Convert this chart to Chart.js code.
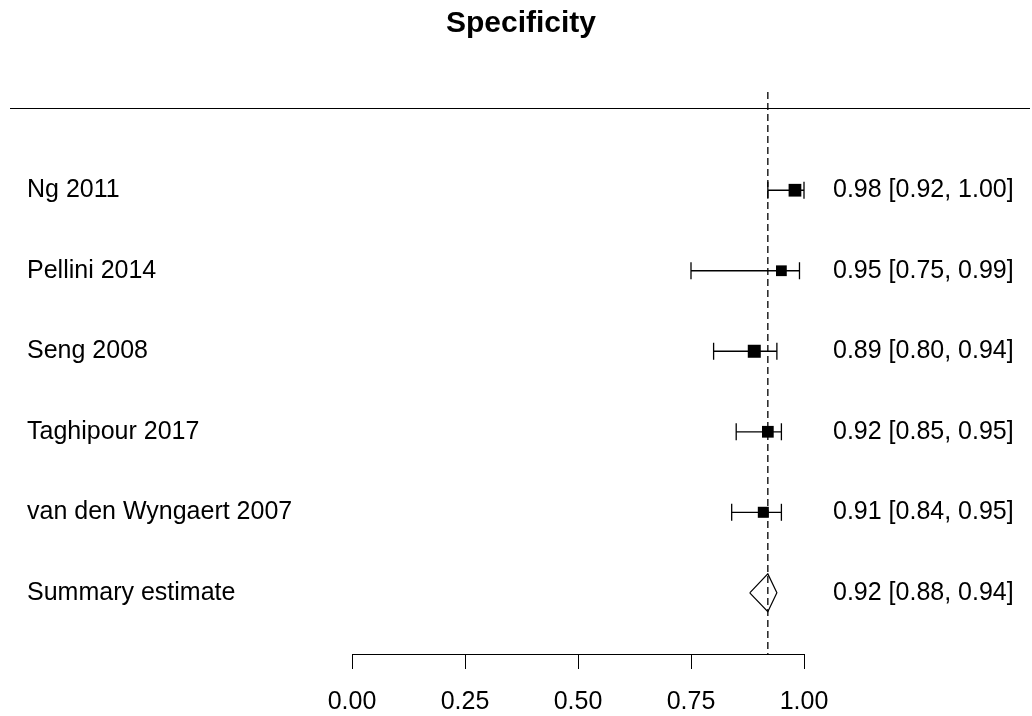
<!DOCTYPE html>
<html>
<head>
<meta charset="utf-8">
<script src="https://cdn.jsdelivr.net/npm/chart.js@4"></script>
<style>
  html, body { margin: 0; padding: 0; background: #fff; }
  #wrap { width: 1032px; height: 716px; }
</style>
</head>
<body>
<div id="wrap"><canvas id="forest"></canvas></div>
<script>
// study rows, top to bottom
const studies = ['Ng 2011', 'Pellini 2014', 'Seng 2008', 'Taghipour 2017', 'van den Wyngaert 2007'];
const spec = [0.98, 0.95, 0.89, 0.92, 0.91];
const lower = [0.92, 0.75, 0.80, 0.85, 0.84];
const upper = [1.00, 0.99, 0.94, 0.95, 0.95];

// pooled estimate
const summaryLabel = 'Summary estimate';
const summary = [0.92, 0.88, 0.94]; // estimate, lower, upper

const xTicks = [0, 0.25, 0.5, 0.75, 1];

const FONT = "'Liberation Sans', Arial, sans-serif";
const Y_MIN = -1.22, Y_MAX = 5.76;
const summaryRow = studies.length;
const fmt = v => v.toFixed(2);

// one dataset per confidence interval, capped with vertical ticks
const ciSets = studies.map((s, i) => ({
  data: [{ x: lower[i], y: i }, { x: upper[i], y: i }],
  showLine: true,
  borderColor: '#000',
  borderWidth: 1.3,
  pointStyle: 'line',
  rotation: 90,
  pointRadius: 8.5,
  pointBorderColor: '#000',
  pointBorderWidth: 1.3,
  clip: false
}));

const datasets = [
  {
    // point estimates
    data: spec.map((v, i) => ({ x: v, y: i })),
    pointStyle: 'rect',
    pointRadius: [9, 7.6, 9.2, 8.3, 7.8],
    backgroundColor: '#000',
    borderWidth: 0,
    clip: false
  },
  ...ciSets,
  {
    // summary diamond
    data: [
      { x: summary[1], y: summaryRow },
      { x: summary[0], y: summaryRow - 0.235 },
      { x: summary[2], y: summaryRow },
      { x: summary[0], y: summaryRow + 0.235 },
      { x: summary[1], y: summaryRow }
    ],
    showLine: true,
    borderColor: '#000',
    borderWidth: 1.2,
    fill: false,
    pointRadius: 0,
    clip: false
  },
  {
    // reference line at the summary estimate
    data: [{ x: summary[0], y: Y_MIN }, { x: summary[0], y: Y_MAX }],
    showLine: true,
    borderColor: '#000',
    borderWidth: 1.3,
    borderDash: [7, 4],
    pointRadius: 0,
    clip: false
  }
];

const labelsPlugin = {
  id: 'forestLabels',
  afterDraw(chart) {
    const c = chart.ctx;
    const ys = chart.scales.y;
    c.save();
    c.fillStyle = '#000';

    // title
    c.font = 'bold 30px ' + FONT;
    c.textAlign = 'center';
    c.textBaseline = 'middle';
    c.fillText('Specificity', 521, 24);

    // rule under the header
    const hy = Math.round(ys.getPixelForValue(-1.02)) + 0.5;
    c.strokeStyle = '#000';
    c.lineWidth = 1;
    c.beginPath();
    c.moveTo(10, hy);
    c.lineTo(1030, hy);
    c.stroke();

    c.font = '25px ' + FONT;
    c.textAlign = 'left';
    const rowNames = [...studies, summaryLabel];
    const rowText = [
      ...spec.map((v, i) => `${fmt(v)} [${fmt(lower[i])}, ${fmt(upper[i])}]`),
      `${fmt(summary[0])} [${fmt(summary[1])}, ${fmt(summary[2])}]`
    ];
    rowNames.forEach((name, i) => {
      const y = ys.getPixelForValue(i);
      c.fillText(name, 27, y);
      c.fillText(rowText[i], 833, y);
    });
    c.restore();
  }
};

new Chart(document.getElementById('forest'), {
  type: 'scatter',
  data: { datasets },
  options: {
    responsive: true,
    maintainAspectRatio: false,
    animation: false,
    layout: { padding: { top: 92, left: 352, right: 228, bottom: 0 } },
    plugins: {
      legend: { display: false },
      tooltip: { enabled: false },
      title: { display: false }
    },
    scales: {
      x: {
        type: 'linear',
        min: 0,
        max: 1,
        afterBuildTicks: s => { s.ticks = xTicks.map(v => ({ value: v })); },
        afterFit: s => { s.height = 62; },
        border: { display: true, color: '#000', width: 1 },
        grid: { drawOnChartArea: false, drawTicks: true, tickLength: 15, color: '#000', lineWidth: 1 },
        ticks: {
          color: '#000',
          padding: 18,
          maxRotation: 0,
          font: { family: FONT, size: 25, lineHeight: 1.2 },
          callback: v => fmt(v)
        }
      },
      y: {
        type: 'linear',
        display: false,
        reverse: true,
        min: Y_MIN,
        max: Y_MAX
      }
    }
  },
  plugins: [labelsPlugin]
});
</script>
</body>
</html>
